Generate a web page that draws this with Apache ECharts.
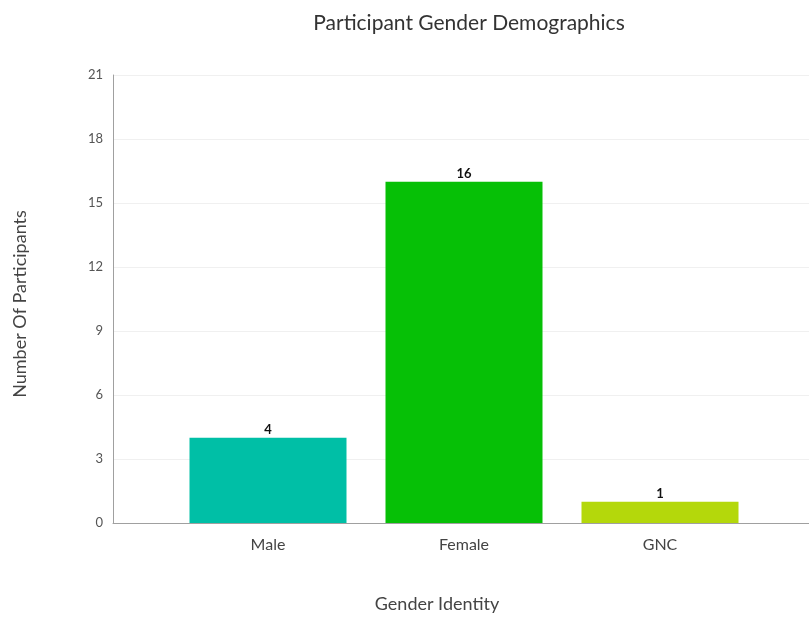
<!DOCTYPE html>
<html>
<head>
<meta charset="utf-8">
<script src="https://cdn.jsdelivr.net/npm/echarts@6/dist/echarts.min.js"></script>
<style>
  html, body { margin: 0; padding: 0; background: #fff; }
  #chart { width: 809px; height: 617px; }
</style>
</head>
<body>
<div id="chart"></div>
<script>
// Participant counts by gender identity
const categories = ['Male', 'Female', 'GNC'];
const counts = [4, 16, 1];
const barColors = ['#00BFA6', '#06C006', '#B4D80B'];
const yTicks = { min: 0, max: 21, interval: 3 };

const FONT = 'Lato, "Noto Sans", sans-serif';

const chart = echarts.init(document.getElementById('chart'));

chart.setOption({
  animation: false,
  backgroundColor: '#ffffff',
  title: {
    text: 'Participant Gender Demographics',
    left: 464,
    top: 8,
    textAlign: 'center',
    textStyle: { fontFamily: FONT, fontSize: 21, fontWeight: 'normal', color: '#333' }
  },
  grid: [
    // frame grid: y scale, gridlines and the base line
    { left: 113, right: 0, top: 75, bottom: 94 },
    // bar grid
    { left: 170, right: 51, top: 75, bottom: 94 }
  ],
  xAxis: [
    {
      gridIndex: 0, type: 'value', min: 0, max: 1,
      axisLine: { show: true, lineStyle: { color: '#a0a0a0', width: 1 } },
      axisTick: { show: false }, axisLabel: { show: false }, splitLine: { show: false }
    },
    {
      gridIndex: 1, type: 'category', data: categories,
      axisLine: { show: false }, axisTick: { show: false },
      axisLabel: { margin: 14, fontFamily: FONT, fontSize: 16, color: '#444' }
    }
  ],
  yAxis: [
    {
      gridIndex: 0, type: 'value', min: yTicks.min, max: yTicks.max, interval: yTicks.interval,
      axisLine: { show: true, lineStyle: { color: '#a0a0a0', width: 1 } },
      axisTick: { show: false },
      axisLabel: { margin: 10, fontFamily: FONT, fontSize: 13, color: '#555' },
      splitLine: { show: true, lineStyle: { color: '#f0f0f0', width: 1 } }
    },
    {
      gridIndex: 1, type: 'value', min: yTicks.min, max: yTicks.max, interval: yTicks.interval,
      show: false
    }
  ],
  graphic: [
    {
      type: 'text', x: 20, y: 304, rotation: Math.PI / 2,
      style: {
        text: 'Number Of Participants', fontFamily: FONT, fontSize: 18,
        fill: '#444', textAlign: 'center', textVerticalAlign: 'middle'
      }
    },
    {
      type: 'text', x: 437, y: 604,
      style: {
        text: 'Gender Identity', fontFamily: FONT, fontSize: 18,
        fill: '#444', textAlign: 'center', textVerticalAlign: 'middle'
      }
    }
  ],
  series: [
    {
      type: 'bar',
      xAxisIndex: 1, yAxisIndex: 1,
      barWidth: 157,
      data: counts.map((v, i) => ({ value: v, itemStyle: { color: barColors[i] } })),
      label: {
        show: true, position: 'top', distance: 1,
        fontFamily: FONT, fontSize: 13, fontWeight: 'bold', color: '#111'
      }
    }
  ]
});
</script>
</body>
</html>
